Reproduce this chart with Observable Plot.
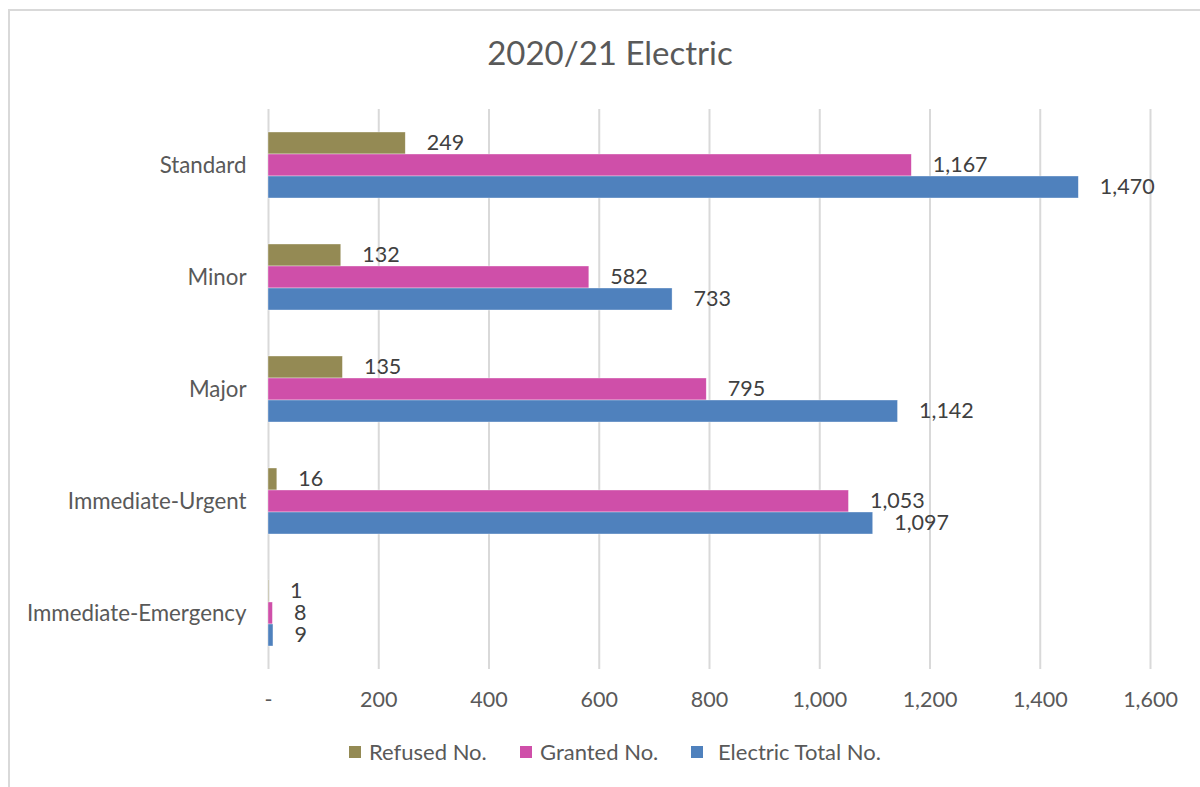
<!DOCTYPE html>
<html>
<head>
<meta charset="utf-8">
<script src="https://cdn.jsdelivr.net/npm/d3@7"></script>
<script src="https://cdn.jsdelivr.net/npm/@observablehq/plot@0.6"></script>
<style>
  html, body { margin: 0; padding: 0; background: #fff; overflow: hidden; }
  #wrap { position: relative; width: 1200px; height: 787px; font-family: Lato, sans-serif; }
  #frame { position: absolute; left: 8px; top: 9px; width: 1220px; height: 800px; border: 2px solid #d9d9d9; box-sizing: border-box; }
  #title { position: absolute; left: 0; top: 0; width: 1220px; height: 90px; text-align: center; line-height: 104px; font-size: 33px; color: #595959; }
  #chart { position: absolute; left: 0; top: 90px; }
  #legend { position: absolute; left: 0; top: 738px; width: 1200px; height: 30px; font-size: 22px; color: #595959; }
  .item { position: absolute; top: 0; display: flex; align-items: center; white-space: nowrap; }
  .sw { width: 12px; height: 12px; margin-right: 8px; }
</style>
</head>
<body>
<div id="wrap">
  <div id="frame"></div>
  <div id="title">2020/21 Electric</div>
  <div id="chart"></div>
  <div id="legend"></div>
</div>
<script>
const categories = ["Standard", "Minor", "Major", "Immediate-Urgent", "Immediate-Emergency"];
const series = ["Refused No.", "Granted No.", "Electric Total No."];
const refused = [249, 132, 135, 16, 1];
const granted = [1167, 582, 795, 1053, 8];
const total = [1470, 733, 1142, 1097, 9];
const xTicks = [0, 200, 400, 600, 800, 1000, 1200, 1400, 1600];
const colors = ["#948A54", "#CF4FA9", "#4F81BD"];

const valuesBySeries = [refused, granted, total];
const data = [];
categories.forEach((c, i) => {
  series.forEach((s, j) => {
    data.push({category: c, series: s, value: valuesBySeries[j][i]});
  });
});

const fmt = d3.format(",");
const tickFmt = d => d === 0 ? "-" : fmt(d);

const chart = Plot.plot({
  width: 1200,
  height: 630,
  marginTop: 18,
  marginBottom: 50,
  marginLeft: 268,
  marginRight: 50,
  style: {fontFamily: "Lato, sans-serif", background: "transparent"},
  x: {domain: [0, 1600], label: null},
  fy: {domain: categories, padding: 0, label: null},
  y: {domain: series, paddingInner: 0, paddingOuter: 0.935, axis: null},
  color: {domain: series, range: colors},
  marks: [
    Plot.gridX(xTicks, {stroke: "#d9d9d9", strokeOpacity: 1, strokeWidth: 2}),
    Plot.barX(data, {x: "value", y: "series", fy: "category", fill: "series", stroke: "#fff", strokeWidth: 0.6, strokeOpacity: 0.6}),
    Plot.text(data, {x: "value", y: "series", fy: "category", text: d => fmt(d.value), dx: 21, textAnchor: "start", fontSize: 21.5, fill: "#404040"}),
    Plot.axisX(xTicks, {tickFormat: tickFmt, tickSize: 0, tickPadding: 22, fontSize: 21.5, color: "#595959", label: null}),
    Plot.axisFy({anchor: "left", tickSize: 0, tickPadding: 22, fontSize: 22.3, color: "#595959", label: null})
  ]
});
document.getElementById("chart").appendChild(chart);

const legend = document.getElementById("legend");
const legendLeft = [349, 520, 691];
series.forEach((s, j) => {
  const item = document.createElement("div");
  item.className = "item";
  item.style.left = legendLeft[j] + "px";
  const sw = document.createElement("div");
  sw.className = "sw";
  sw.style.background = colors[j];
  if (j === 2) sw.style.marginRight = "15px";
  const lab = document.createElement("span");
  lab.textContent = s;
  item.appendChild(sw);
  item.appendChild(lab);
  legend.appendChild(item);
});
</script>
</body>
</html>
